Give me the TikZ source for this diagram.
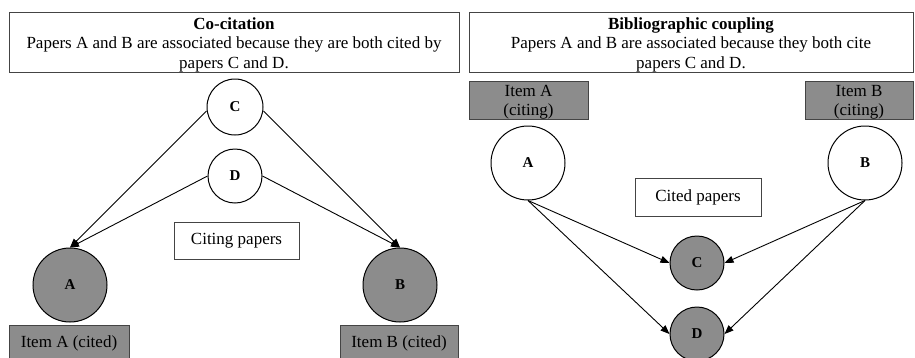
\documentclass[tikz,border=0pt]{standalone}
\usepackage{fontspec}
\setmainfont{Liberation Serif}
\usetikzlibrary{arrows.meta}
\definecolor{boxgray}{HTML}{8C8C8C}
\definecolor{edgegray}{HTML}{444444}
\begin{document}
\begin{tikzpicture}[x=1pt,y=-1pt,
  hdrbox/.style={draw=edgegray,line width=1pt,fill=white},
  hdr/.style={align=center,inner sep=0pt,font=\fontsize{17}{19.5}\selectfont},
  lab/.style={draw=edgegray,line width=0.9pt,rectangle,inner sep=0pt,align=center,
    font=\fontsize{17}{19}\selectfont},
  item/.style={lab,fill=boxgray},
  wnode/.style={circle,draw=black,line width=1pt,fill=white,inner sep=0pt,font=\bfseries\fontsize{15}{15}\selectfont},
  gnode/.style={wnode,fill=boxgray},
  arr/.style={line width=0.9pt,-{Triangle[length=9pt,width=7pt]}}]
\clip (0,0) rectangle (915,357);
\fill[white] (0,0) rectangle (915,357);
% headers
\draw[hdrbox] (9,12) rectangle (459,72);
\node[hdr] (h1) at (234,44.5)
  {\textbf{Co-citation}\\Papers A and B are associated because they are both cited by\\papers C and D.};
\draw[hdrbox] (469,12) rectangle (913,72);
\node[hdr] (h2) at (691,44.5)
  {\textbf{Bibliographic coupling}\\Papers A and B are associated because they both cite\\papers C and D.};
% left: co-citation
\node[wnode,minimum size=56pt] (lc) at (235,107) {C};
\node[wnode,minimum size=54pt] (ld) at (235,176) {D};
\node[gnode,minimum size=74pt] (la) at (70,285) {A};
\node[gnode,minimum size=74pt] (lb) at (400,285) {B};
\node[lab,minimum width=125pt,minimum height=37pt] (lcp) at (236.5,240.5) {Citing papers};
\node[item,minimum width=120pt,minimum height=36pt] (lia) at (69,343) {Item A (cited)};
\node[item,minimum width=118pt,minimum height=36pt] (lib) at (399,343) {Item B (cited)};
\coordinate (lc1) at ([yshift=-4pt]lc.west);
\coordinate (lc2) at ([yshift=-4pt]lc.east);
\draw[arr] (lc1) -- (la.north);
\draw[arr] (ld.west) -- (la.north);
\draw[arr] (lc2) -- (lb.north);
\draw[arr] (ld.east) -- (lb.north);
% right: bibliographic coupling
\node[item,minimum width=119pt,minimum height=38pt,text depth=-4pt] (ria) at (528.5,100) {Item A\\(citing)};
\node[item,minimum width=108pt,minimum height=38pt,text depth=-4pt] (rib) at (859,100) {Item B\\(citing)};
\node[wnode,minimum size=74pt] (ra) at (528,163) {A};
\node[wnode,minimum size=74pt] (rb) at (865,163) {B};
\node[lab,minimum width=126pt,minimum height=38pt] (rcp) at (698,197) {Cited papers};
\node[gnode,minimum size=54pt] (rc) at (697,263) {C};
\node[gnode,minimum size=54pt] (rd) at (697,334) {D};
\draw[arr] (ra.south) -- (rc.west);
\draw[arr] (ra.south) -- (rd.west);
\draw[arr] (rb.south) -- (rc.east);
\draw[arr] (rb.south) -- (rd.east);
\end{tikzpicture}
\end{document}
